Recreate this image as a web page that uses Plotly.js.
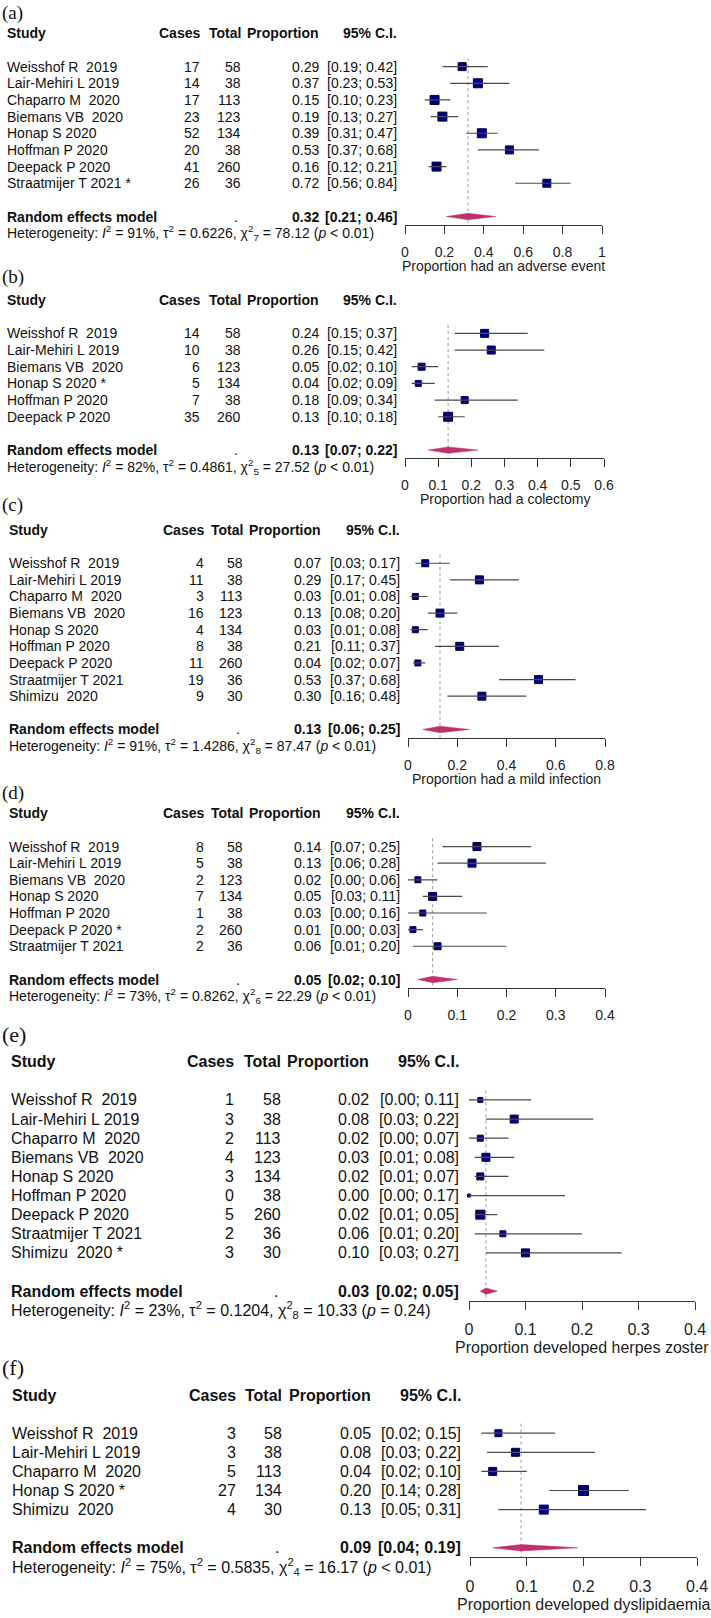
<!DOCTYPE html>
<html><head><meta charset="utf-8">
<script src="https://cdn.plot.ly/plotly-3.0.1.min.js"></script>
<style>html,body{margin:0;padding:0;background:#fff}</style>
</head><body><div id="chart" style="width:711px;height:1618px"></div>
<script>
// ---------------- DATA ----------------
const studiesA = ["Weisshof R\u00a0 2019","Lair-Mehiri L 2019","Chaparro M\u00a0 2020","Biemans VB\u00a0 2020","Honap S 2020","Hoffman P 2020","Deepack P 2020","Straatmijer T 2021 *"];
const casesA = [17,14,17,23,52,20,41,26];
const totalA = [58,38,113,123,134,38,260,36];
const propA  = [0.29,0.37,0.15,0.19,0.39,0.53,0.16,0.72];
const lowerA = [0.19,0.23,0.10,0.13,0.31,0.37,0.12,0.56];
const upperA = [0.42,0.53,0.23,0.27,0.47,0.68,0.21,0.84];
const pooledA = [0.32,0.21,0.46];
const hetA = ["91%","0.6226","7","78.12","< 0.01"];
const ticksA = [0,0.2,0.4,0.6,0.8,1];
const titleA = "Proportion had an adverse event";

const studiesB = ["Weisshof R\u00a0 2019","Lair-Mehiri L 2019","Biemans VB\u00a0 2020","Honap S 2020 *","Hoffman P 2020","Deepack P 2020"];
const casesB = [14,10,6,5,7,35];
const totalB = [58,38,123,134,38,260];
const propB  = [0.24,0.26,0.05,0.04,0.18,0.13];
const lowerB = [0.15,0.15,0.02,0.02,0.09,0.10];
const upperB = [0.37,0.42,0.10,0.09,0.34,0.18];
const pooledB = [0.13,0.07,0.22];
const hetB = ["82%","0.4861","5","27.52","< 0.01"];
const ticksB = [0,0.1,0.2,0.3,0.4,0.5,0.6];
const titleB = "Proportion had a colectomy";

const studiesC = ["Weisshof R\u00a0 2019","Lair-Mehiri L 2019","Chaparro M\u00a0 2020","Biemans VB\u00a0 2020","Honap S 2020","Hoffman P 2020","Deepack P 2020","Straatmijer T 2021","Shimizu\u00a0 2020"];
const casesC = [4,11,3,16,4,8,11,19,9];
const totalC = [58,38,113,123,134,38,260,36,30];
const propC  = [0.07,0.29,0.03,0.13,0.03,0.21,0.04,0.53,0.30];
const lowerC = [0.03,0.17,0.01,0.08,0.01,0.11,0.02,0.37,0.16];
const upperC = [0.17,0.45,0.08,0.20,0.08,0.37,0.07,0.68,0.48];
const pooledC = [0.13,0.06,0.25];
const hetC = ["91%","1.4286","8","87.47","< 0.01"];
const ticksC = [0,0.2,0.4,0.6,0.8];
const titleC = "Proportion had a mild infection";

const studiesD = ["Weisshof R\u00a0 2019","Lair-Mehiri L 2019","Biemans VB\u00a0 2020","Honap S 2020","Hoffman P 2020","Deepack P 2020 *","Straatmijer T 2021"];
const casesD = [8,5,2,7,1,2,2];
const totalD = [58,38,123,134,38,260,36];
const propD  = [0.14,0.13,0.02,0.05,0.03,0.01,0.06];
const lowerD = [0.07,0.06,0.00,0.03,0.00,0.00,0.01];
const upperD = [0.25,0.28,0.06,0.11,0.16,0.03,0.20];
const pooledD = [0.05,0.02,0.10];
const hetD = ["73%","0.8262","6","22.29","< 0.01"];
const ticksD = [0,0.1,0.2,0.3,0.4];
const titleD = "";

const studiesE = ["Weisshof R\u00a0 2019","Lair-Mehiri L 2019","Chaparro M\u00a0 2020","Biemans VB\u00a0 2020","Honap S 2020","Hoffman P 2020","Deepack P 2020","Straatmijer T 2021","Shimizu\u00a0 2020 *"];
const casesE = [1,3,2,4,3,0,5,2,3];
const totalE = [58,38,113,123,134,38,260,36,30];
const propE  = [0.02,0.08,0.02,0.03,0.02,0.00,0.02,0.06,0.10];
const lowerE = [0.00,0.03,0.00,0.01,0.01,0.00,0.01,0.01,0.03];
const upperE = [0.11,0.22,0.07,0.08,0.07,0.17,0.05,0.20,0.27];
const pooledE = [0.03,0.02,0.05];
const hetE = ["23%","0.1204","8","10.33","= 0.24"];
const ticksE = [0,0.1,0.2,0.3,0.4];
const titleE = "Proportion developed herpes zoster";

const studiesF = ["Weisshof R\u00a0 2019","Lair-Mehiri L 2019","Chaparro M\u00a0 2020","Honap S 2020 *","Shimizu\u00a0 2020"];
const casesF = [3,3,5,27,4];
const totalF = [58,38,113,134,30];
const propF  = [0.05,0.08,0.04,0.20,0.13];
const lowerF = [0.02,0.03,0.02,0.14,0.05];
const upperF = [0.15,0.22,0.10,0.28,0.31];
const pooledF = [0.09,0.04,0.19];
const hetF = ["75%","0.5835","4","16.17","< 0.01"];
const ticksF = [0,0.1,0.2,0.3,0.4];
const titleF = "Proportion developed dyslipidaemia";

const panelLabels = ["(a)","(b)","(c)","(d)","(e)","(f)"];
const headers = ["Study","Cases","Total","Proportion","95% C.I."];
const pooledName = "Random effects model";

// ---------------- STYLE / GEOMETRY ----------------
const W = 711, H = 1618;
const SANS = "Liberation Sans, Arial, Helvetica, sans-serif";
const SERIF = "Liberation Serif, Times New Roman, serif";
const geo = [
  {labelY:13,  headerY:33.3,  rowH:16.66, xL:405, xR:602, cols:[5.5,201,242,320,398], fs:14, lfs:19, tickLen:8, titleDy:41, sizes:[8,9,9,9,9,8,9,8]},
  {labelY:277, headerY:300,   rowH:16.68, xL:405, xR:604, cols:[5.5,201,242,320,398], fs:14, lfs:19, tickLen:8, titleDy:41, sizes:[8,8,7,6,7,9]},
  {labelY:505, headerY:530,   rowH:16.62, xL:408, xR:605, cols:[8,205,244,322,401],   fs:14, lfs:19, tickLen:8, titleDy:41, sizes:[7,8,6,8,6,8,6,8,8]},
  {labelY:793, headerY:813.3, rowH:16.62, xL:408, xR:605, cols:[8,205,244,322,401],   fs:14, lfs:19, tickLen:8, titleDy:41, sizes:[8,8,6,8,6,6,7]},
  {labelY:1034,headerY:1061.7,rowH:19.12, xL:469, xR:695, cols:[10,235,282,370,460],  fs:16, lfs:22, tickLen:8, titleDy:47, sizes:[5,8,6,8,7,3,9,6,8]},
  {labelY:1367,headerY:1395,  rowH:19.1,  xL:470, xR:697, cols:[11,237,283,372,462],  fs:16, lfs:22, tickLen:8, titleDy:47, sizes:[7,8,8,10,9]}
];
const SQUARE = "#000080", SQUARE_EDGE = "#00004a", CI_LINE = "#4a4a4a", DIAMOND = "#c2306b", REF = "#9a9a9a", TXT = "#111111";

const data = [
  [studiesA,casesA,totalA,propA,lowerA,upperA,pooledA,hetA,ticksA,titleA],
  [studiesB,casesB,totalB,propB,lowerB,upperB,pooledB,hetB,ticksB,titleB],
  [studiesC,casesC,totalC,propC,lowerC,upperC,pooledC,hetC,ticksC,titleC],
  [studiesD,casesD,totalD,propD,lowerD,upperD,pooledD,hetD,ticksD,titleD],
  [studiesE,casesE,totalE,propE,lowerE,upperE,pooledE,hetE,ticksE,titleE],
  [studiesF,casesF,totalF,propF,lowerF,upperF,pooledF,hetF,ticksF,titleF]
];

const esc = s => String(s).replace(/&/g,"&amp;").replace(/</g,"&lt;").replace(/>/g,"&gt;");
const f2 = v => v.toFixed(2);

const traces = [], annotations = [];
const layout = {
  width: W, height: H, margin:{l:0,r:0,t:0,b:0},
  paper_bgcolor:"#ffffff", plot_bgcolor:"rgba(0,0,0,0)",
  showlegend:false, font:{family:SANS, color:TXT}
};

data.forEach((d, i) => {
  const [studies,cases,total,prop,lo,hi,pooled,het,ticks,title] = d;
  const g = geo[i];
  const n = studies.length;
  const k = i + 1;
  const xa = k === 1 ? "x" : "x" + k, ya = k === 1 ? "y" : "y" + k;
  const xKey = k === 1 ? "xaxis" : "xaxis" + k, yKey = k === 1 ? "yaxis" : "yaxis" + k;
  const rows = studies.map((_, j) => j + 2);
  const reRow = n + 3, hetRow = n + 4;
  const yTop = g.headerY - 1.5 * g.rowH, yBot = g.headerY + (n + 5) * g.rowH;
  const lineY = g.headerY + (n + 3.5) * g.rowH;

  layout[yKey] = {domain:[1 - yBot / H, 1 - yTop / H], range:[n + 5, -1.5], visible:false, showgrid:false, zeroline:false, fixedrange:true};
  layout[xKey] = {
    domain:[g.xL / W, g.xR / W], range:[ticks[0], ticks[ticks.length - 1]],
    anchor:"free", position: 1 - lineY / H, side:"bottom",
    showline:true, linecolor:"#333", linewidth:1,
    ticks:"outside", ticklen:g.tickLen, tickcolor:"#333", tickwidth:1,
    tickvals:ticks, ticktext:ticks.map(String), ticklabelstandoff:6,
    tickfont:{size:g.fs, color:"#222", family:SANS},
    showgrid:false, zeroline:false, fixedrange:true
  };

  // reference dotted line at pooled estimate
  traces.push({type:"scatter", mode:"lines", x:[pooled[0], pooled[0]], y:[1.5, n + 3.5], xaxis:xa, yaxis:ya,
    line:{color:REF, width:1, dash:"dot"}, hoverinfo:"skip", cliponaxis:false});
  // pooled diamond
  const h = 3.2 / g.rowH;
  traces.push({type:"scatter", mode:"lines", x:[pooled[1], pooled[0], pooled[2], pooled[0], pooled[1]],
    y:[reRow, reRow - h, reRow, reRow + h, reRow], fill:"toself", fillcolor:DIAMOND,
    line:{color:DIAMOND, width:0.5}, xaxis:xa, yaxis:ya, hoverinfo:"skip", cliponaxis:false});
  // study squares
  traces.push({type:"scatter", mode:"markers", x:prop, y:rows, xaxis:xa, yaxis:ya, cliponaxis:false,
    marker:{symbol:"square", size:g.sizes, opacity:1, color:SQUARE, line:{color:SQUARE_EDGE, width:1}}});
  // confidence interval lines, drawn over the squares
  const cxs = [], cys = [];
  prop.forEach((_, j) => { cxs.push(lo[j], hi[j], null); cys.push(rows[j], rows[j], null); });
  traces.push({type:"scatter", mode:"lines", x:cxs, y:cys, xaxis:xa, yaxis:ya, cliponaxis:false,
    line:{color:CI_LINE, width:1.2}, hoverinfo:"skip", connectgaps:false});

  const cx = g.cols.map(c => c / W);
  const font = {size:g.fs, family:SANS, color:TXT};
  const ann = (x, y, text, anchor, extra) => annotations.push(Object.assign({xref:"paper", yref:ya, x, y, text,
    xanchor:anchor, yanchor:"middle", showarrow:false, font, borderpad:0}, extra || {}));

  // header
  headers.forEach((t, c) => ann(cx[c], 0, "<b>" + esc(t) + "</b>", c === 0 ? "left" : "right"));
  // study rows
  studies.forEach((s, j) => {
    const r = rows[j];
    ann(cx[0], r, esc(s), "left");
    ann(cx[1], r, String(cases[j]), "right");
    ann(cx[2], r, String(total[j]), "right");
    ann(cx[3], r, f2(prop[j]), "right");
    ann(cx[4], r, "[" + f2(lo[j]) + "; " + f2(hi[j]) + "]", "right");
  });
  // pooled row
  ann(cx[0], reRow, "<b>" + esc(pooledName) + "</b>", "left");
  ann(cx[2] - 0.004, reRow, ".", "right");
  ann(cx[3], reRow, "<b>" + f2(pooled[0]) + "</b>", "right");
  ann(cx[4], reRow, "<b>[" + f2(pooled[1]) + "; " + f2(pooled[2]) + "]</b>", "right");
  // heterogeneity
  ann(cx[0], hetRow, "Heterogeneity: <i>I</i><sup>2</sup> = " + esc(het[0]) + ", \u03c4<sup>2</sup> = " + esc(het[1]) +
    ", \u03c7<sup>2</sup><sub>" + esc(het[2]) + "</sub> = " + esc(het[3]) + " (<i>p</i> " + esc(het[4]) + ")", "left");

  // axis title
  if (title) annotations.push({xref:xa + " domain", yref:"paper", x:0.5, y:1 - (lineY + g.titleDy) / H, text:esc(title),
    xanchor:"center", yanchor:"middle", showarrow:false, font:{size:g.fs, family:SANS, color:"#222"}});
  // panel label
  annotations.push({xref:"paper", yref:"paper", x:0, y:1 - g.labelY / H, text:panelLabels[i], xanchor:"left", yanchor:"middle",
    showarrow:false, font:{size:g.lfs, family:SERIF, color:TXT}});
});

layout.annotations = annotations;
Plotly.newPlot("chart", traces, layout, {staticPlot:true, displayModeBar:false});
</script>
</body></html>
